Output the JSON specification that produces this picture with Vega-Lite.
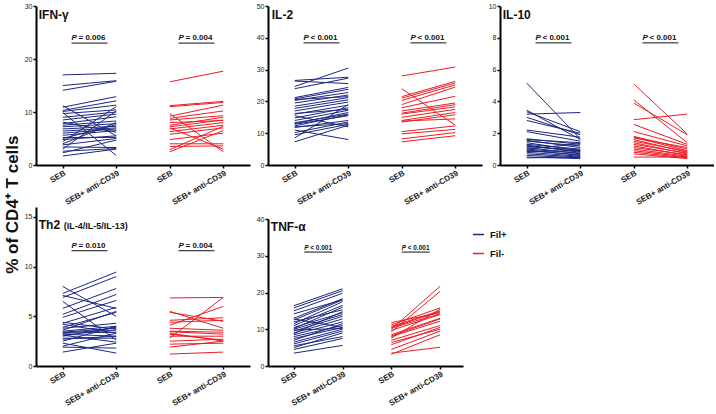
{
  "$schema": "https://vega.github.io/schema/vega-lite/v6.json",
  "padding": {"left": 4, "top": 2, "right": 0, "bottom": 0},
  "background": "white",
  "title": {"text": "% of CD4⁺ T cells", "orient": "left", "anchor": "middle", "fontSize": 17, "fontWeight": "bold", "font": "Liberation Sans", "offset": 2, "color": "#111"},
  "datasets": {
    "ifn": [
      {"g":"Fil+","a":17.0,"b":17.3},{"g":"Fil+","a":15.0,"b":15.9},{"g":"Fil+","a":14.1,"b":15.8},{"g":"Fil+","a":11.2,"b":5.5},{"g":"Fil+","a":10.9,"b":12.9},{"g":"Fil+","a":10.3,"b":12.1},{"g":"Fil+","a":10.1,"b":11.3},{"g":"Fil+","a":9.9,"b":1.8},{"g":"Fil+","a":9.7,"b":10.4},{"g":"Fil+","a":9.0,"b":10.0},{"g":"Fil+","a":8.5,"b":9.6},{"g":"Fil+","a":7.8,"b":9.1},{"g":"Fil+","a":7.5,"b":8.3},{"g":"Fil+","a":7.2,"b":7.8},{"g":"Fil+","a":6.8,"b":7.3},{"g":"Fil+","a":6.4,"b":7.0},{"g":"Fil+","a":6.0,"b":6.8},{"g":"Fil+","a":5.6,"b":6.5},{"g":"Fil+","a":5.2,"b":5.2},{"g":"Fil+","a":4.8,"b":5.5},{"g":"Fil+","a":4.4,"b":11.0},{"g":"Fil+","a":4.0,"b":8.0},{"g":"Fil+","a":3.8,"b":5.0},{"g":"Fil+","a":3.4,"b":3.3},{"g":"Fil+","a":3.0,"b":10.2},{"g":"Fil+","a":2.6,"b":3.1},{"g":"Fil+","a":2.3,"b":4.7},{"g":"Fil+","a":1.7,"b":3.0},{"g":"Fil+","a":5.0,"b":7.6},{"g":"Fil+","a":8.1,"b":6.2},
      {"g":"Fil-","a":15.7,"b":17.7},{"g":"Fil-","a":11.2,"b":12.0},{"g":"Fil-","a":11.0,"b":11.8},{"g":"Fil-","a":9.7,"b":2.5},{"g":"Fil-","a":9.2,"b":11.3},{"g":"Fil-","a":8.8,"b":10.2},{"g":"Fil-","a":8.5,"b":9.3},{"g":"Fil-","a":7.5,"b":9.0},{"g":"Fil-","a":7.2,"b":8.5},{"g":"Fil-","a":6.8,"b":8.0},{"g":"Fil-","a":6.3,"b":7.5},{"g":"Fil-","a":5.8,"b":7.0},{"g":"Fil-","a":4.8,"b":6.0},{"g":"Fil-","a":4.0,"b":4.0},{"g":"Fil-","a":3.5,"b":3.6},{"g":"Fil-","a":2.9,"b":7.3},{"g":"Fil-","a":2.5,"b":6.5},{"g":"Fil-","a":7.0,"b":3.0},{"g":"Fil-","a":8.0,"b":8.4}
    ],
    "il2": [
      {"g":"Fil+","a":26.6,"b":27.6},{"g":"Fil+","a":26.4,"b":25.6},{"g":"Fil+","a":24.7,"b":30.5},{"g":"Fil+","a":24.0,"b":27.3},{"g":"Fil+","a":21.2,"b":24.4},{"g":"Fil+","a":20.8,"b":23.8},{"g":"Fil+","a":20.3,"b":22.8},{"g":"Fil+","a":19.5,"b":22.0},{"g":"Fil+","a":18.5,"b":21.2},{"g":"Fil+","a":17.8,"b":20.5},{"g":"Fil+","a":17.0,"b":19.8},{"g":"Fil+","a":16.0,"b":18.8},{"g":"Fil+","a":15.5,"b":12.0},{"g":"Fil+","a":14.8,"b":18.0},{"g":"Fil+","a":14.0,"b":17.2},{"g":"Fil+","a":13.3,"b":16.0},{"g":"Fil+","a":12.8,"b":15.5},{"g":"Fil+","a":12.3,"b":15.8},{"g":"Fil+","a":11.8,"b":14.0},{"g":"Fil+","a":11.0,"b":8.0},{"g":"Fil+","a":10.2,"b":13.5},{"g":"Fil+","a":9.5,"b":12.8},{"g":"Fil+","a":8.5,"b":19.0},{"g":"Fil+","a":7.3,"b":12.5},{"g":"Fil+","a":12.0,"b":13.0},{"g":"Fil+","a":16.2,"b":17.5},{"g":"Fil+","a":20.6,"b":21.5},{"g":"Fil+","a":13.0,"b":16.5},
      {"g":"Fil-","a":28.0,"b":30.8},{"g":"Fil-","a":24.0,"b":12.5},{"g":"Fil-","a":21.5,"b":26.3},{"g":"Fil-","a":21.0,"b":25.8},{"g":"Fil-","a":20.3,"b":25.2},{"g":"Fil-","a":19.0,"b":24.5},{"g":"Fil-","a":18.0,"b":21.6},{"g":"Fil-","a":17.0,"b":19.5},{"g":"Fil-","a":16.3,"b":19.0},{"g":"Fil-","a":16.0,"b":18.3},{"g":"Fil-","a":15.0,"b":17.5},{"g":"Fil-","a":14.0,"b":16.5},{"g":"Fil-","a":13.5,"b":15.8},{"g":"Fil-","a":13.8,"b":14.5},{"g":"Fil-","a":10.5,"b":12.3},{"g":"Fil-","a":9.8,"b":11.2},{"g":"Fil-","a":8.2,"b":10.2},{"g":"Fil-","a":7.3,"b":9.2}
    ],
    "il10": [
      {"g":"Fil+","a":5.15,"b":1.65},{"g":"Fil+","a":3.45,"b":1.6},{"g":"Fil+","a":3.35,"b":2.1},{"g":"Fil+","a":3.2,"b":3.3},{"g":"Fil+","a":3.0,"b":1.9},{"g":"Fil+","a":2.8,"b":2.0},{"g":"Fil+","a":2.2,"b":1.75},{"g":"Fil+","a":2.1,"b":1.5},{"g":"Fil+","a":1.65,"b":1.3},{"g":"Fil+","a":1.6,"b":1.4},{"g":"Fil+","a":1.55,"b":1.1},{"g":"Fil+","a":1.5,"b":1.2},{"g":"Fil+","a":1.4,"b":0.9},{"g":"Fil+","a":1.3,"b":1.0},{"g":"Fil+","a":1.25,"b":0.8},{"g":"Fil+","a":1.2,"b":0.85},{"g":"Fil+","a":1.1,"b":0.7},{"g":"Fil+","a":1.0,"b":0.75},{"g":"Fil+","a":0.95,"b":0.6},{"g":"Fil+","a":0.9,"b":0.65},{"g":"Fil+","a":0.8,"b":0.55},{"g":"Fil+","a":0.7,"b":0.5},{"g":"Fil+","a":0.6,"b":0.45},{"g":"Fil+","a":0.5,"b":0.4},{"g":"Fil+","a":0.45,"b":0.5},{"g":"Fil+","a":1.0,"b":1.35},{"g":"Fil+","a":0.85,"b":0.9},{"g":"Fil+","a":1.15,"b":0.95},
      {"g":"Fil-","a":5.1,"b":1.95},{"g":"Fil-","a":4.1,"b":1.4},{"g":"Fil-","a":3.9,"b":1.9},{"g":"Fil-","a":2.85,"b":3.2},{"g":"Fil-","a":2.55,"b":1.3},{"g":"Fil-","a":2.1,"b":1.2},{"g":"Fil-","a":1.8,"b":1.0},{"g":"Fil-","a":1.75,"b":0.9},{"g":"Fil-","a":1.7,"b":1.1},{"g":"Fil-","a":1.6,"b":0.8},{"g":"Fil-","a":1.5,"b":0.85},{"g":"Fil-","a":1.4,"b":0.7},{"g":"Fil-","a":1.3,"b":0.75},{"g":"Fil-","a":1.2,"b":0.6},{"g":"Fil-","a":1.1,"b":0.65},{"g":"Fil-","a":1.0,"b":0.55},{"g":"Fil-","a":0.9,"b":0.5},{"g":"Fil-","a":0.8,"b":0.45},{"g":"Fil-","a":0.7,"b":0.4},{"g":"Fil-","a":0.5,"b":0.5}
    ],
    "th2": [
      {"g":"Fil+","a":8.0,"b":5.0},{"g":"Fil+","a":7.3,"b":9.45},{"g":"Fil+","a":7.1,"b":5.8},{"g":"Fil+","a":6.9,"b":9.0},{"g":"Fil+","a":6.5,"b":2.6},{"g":"Fil+","a":5.8,"b":7.8},{"g":"Fil+","a":5.2,"b":7.2},{"g":"Fil+","a":4.9,"b":6.6},{"g":"Fil+","a":4.3,"b":5.9},{"g":"Fil+","a":4.2,"b":3.3},{"g":"Fil+","a":3.9,"b":5.4},{"g":"Fil+","a":3.8,"b":4.3},{"g":"Fil+","a":3.5,"b":4.0},{"g":"Fil+","a":3.4,"b":3.8},{"g":"Fil+","a":3.35,"b":3.6},{"g":"Fil+","a":3.3,"b":3.4},{"g":"Fil+","a":3.2,"b":3.0},{"g":"Fil+","a":3.0,"b":3.9},{"g":"Fil+","a":2.8,"b":2.8},{"g":"Fil+","a":2.5,"b":4.0},{"g":"Fil+","a":2.3,"b":1.3},{"g":"Fil+","a":2.0,"b":3.3},{"g":"Fil+","a":1.9,"b":1.8},{"g":"Fil+","a":1.4,"b":2.3},{"g":"Fil+","a":3.6,"b":5.5},{"g":"Fil+","a":4.4,"b":3.7},{"g":"Fil+","a":2.7,"b":3.0},{"g":"Fil+","a":3.1,"b":2.4},
      {"g":"Fil-","a":6.85,"b":6.9},{"g":"Fil-","a":5.5,"b":3.8},{"g":"Fil-","a":5.4,"b":4.5},{"g":"Fil-","a":4.6,"b":4.85},{"g":"Fil-","a":4.4,"b":4.6},{"g":"Fil-","a":4.1,"b":6.0},{"g":"Fil-","a":3.8,"b":3.6},{"g":"Fil-","a":3.5,"b":3.4},{"g":"Fil-","a":3.45,"b":3.2},{"g":"Fil-","a":3.3,"b":2.5},{"g":"Fil-","a":3.0,"b":3.0},{"g":"Fil-","a":2.8,"b":6.9},{"g":"Fil-","a":2.5,"b":2.7},{"g":"Fil-","a":2.2,"b":2.3},{"g":"Fil-","a":1.9,"b":2.5},{"g":"Fil-","a":1.2,"b":1.4},{"g":"Fil-","a":3.2,"b":2.6}
    ],
    "tnf": [
      {"g":"Fil+","a":16.4,"b":21.0},{"g":"Fil+","a":15.8,"b":20.5},{"g":"Fil+","a":15.0,"b":19.8},{"g":"Fil+","a":13.0,"b":18.3},{"g":"Fil+","a":12.5,"b":18.0},{"g":"Fil+","a":12.0,"b":15.3},{"g":"Fil+","a":11.5,"b":17.5},{"g":"Fil+","a":11.0,"b":16.5},{"g":"Fil+","a":10.5,"b":14.5},{"g":"Fil+","a":10.2,"b":16.0},{"g":"Fil+","a":10.0,"b":14.0},{"g":"Fil+","a":9.5,"b":13.5},{"g":"Fil+","a":9.0,"b":12.8},{"g":"Fil+","a":8.5,"b":12.0},{"g":"Fil+","a":8.0,"b":11.0},{"g":"Fil+","a":7.5,"b":10.5},{"g":"Fil+","a":7.0,"b":11.5},{"g":"Fil+","a":6.5,"b":10.0},{"g":"Fil+","a":6.0,"b":9.5},{"g":"Fil+","a":5.5,"b":8.0},{"g":"Fil+","a":5.0,"b":9.0},{"g":"Fil+","a":4.5,"b":7.5},{"g":"Fil+","a":3.5,"b":5.6},{"g":"Fil+","a":12.8,"b":10.5},{"g":"Fil+","a":9.8,"b":10.2},{"g":"Fil+","a":8.8,"b":14.8},{"g":"Fil+","a":14.2,"b":18.0},
      {"g":"Fil-","a":11.8,"b":14.5},{"g":"Fil-","a":11.2,"b":15.8},{"g":"Fil-","a":10.8,"b":15.0},{"g":"Fil-","a":10.5,"b":14.8},{"g":"Fil-","a":10.3,"b":14.2},{"g":"Fil-","a":10.0,"b":21.7},{"g":"Fil-","a":9.7,"b":14.0},{"g":"Fil-","a":9.3,"b":20.3},{"g":"Fil-","a":8.5,"b":13.0},{"g":"Fil-","a":8.0,"b":12.2},{"g":"Fil-","a":7.6,"b":15.5},{"g":"Fil-","a":7.0,"b":11.0},{"g":"Fil-","a":6.4,"b":10.0},{"g":"Fil-","a":5.8,"b":10.5},{"g":"Fil-","a":4.5,"b":9.5},{"g":"Fil-","a":3.2,"b":8.5},{"g":"Fil-","a":3.5,"b":5.1},{"g":"Fil-","a":8.2,"b":12.8}
    ]
  },
  "spacing": 0,
  "resolve": {"scale": {"color": "independent"}, "legend": {"color": "independent"}},
  "vconcat": [
    {
      "spacing": 6,
      "resolve": {"scale": {"color": "independent"}, "legend": {"color": "independent"}},
      "hconcat": [
        {
          "width": 214, "height": 159,
          "layer": [
            {"data": {"name": "ifn"}, "transform": [{"filter": "datum.g == 'Fil+'"}], "mark": {"type": "rule", "strokeWidth": 1},
             "encoding": {"x": {"datum": "Fil+ SEB", "type": "ordinal", "scale": {"type": "point", "domain": ["Fil+ SEB","Fil+ P","Fil+ SEB+ anti-CD39","gap","Fil- SEB","Fil- P","Fil- SEB+ anti-CD39"], "padding": 1.3, "align": 0.5}, "axis": {"title": null, "labelOverlap": false, "values": ["Fil+ SEB","Fil+ SEB+ anti-CD39","Fil- SEB","Fil- SEB+ anti-CD39"], "labelExpr": "slice(datum.label, 5)"}},
                          "x2": {"datum": "Fil+ SEB+ anti-CD39"},
                          "y": {"field": "a", "type": "quantitative", "scale": {"domain": [0, 30]}, "axis": {"title": null, "labelOverlap": false, "values": [0, 10, 20, 30]}},
                          "y2": {"field": "b"},
                          "color": {"field": "g", "type": "nominal", "scale": {"domain": ["Fil+", "Fil-"], "range": ["#1c2781", "#ee1c24"]}, "legend": null}}},
            {"data": {"name": "ifn"}, "transform": [{"filter": "datum.g == 'Fil-'"}], "mark": {"type": "rule", "strokeWidth": 1},
             "encoding": {"x": {"datum": "Fil- SEB", "type": "ordinal"}, "x2": {"datum": "Fil- SEB+ anti-CD39"}, "y": {"field": "a", "type": "quantitative", "axis": {"title": null, "labelOverlap": false, "values": [0, 10, 20, 30]}}, "y2": {"field": "b"},
                          "color": {"field": "g", "type": "nominal", "legend": null}}},
            {"data": {"values": [{"t": "IFN-γ"}]}, "mark": {"type": "text", "align": "left", "baseline": "middle", "dx": -24, "fontSize": 12, "fontWeight": "bold", "color": "#111"},
             "encoding": {"x": {"datum": "Fil+ SEB", "type": "ordinal"}, "y": {"datum": 28.3, "type": "quantitative", "axis": {"title": null, "labelOverlap": false, "values": [0, 10, 20, 30]}}, "text": {"field": "t"}}},
            {"data": {"values": [{"s": "Fil+ P", "t": "= 0.006"}, {"s": "Fil- P", "t": "= 0.004"}]},
             "layer": [
               {"mark": {"type": "text", "align": "left", "baseline": "alphabetic", "dx": -18, "fontSize": 8, "fontWeight": "bold", "fontStyle": "italic", "color": "#111", "text": "P"},
                "encoding": {"x": {"field": "s", "type": "ordinal"}, "y": {"datum": 23.6, "type": "quantitative", "axis": {"title": null, "labelOverlap": false, "values": [0, 10, 20, 30]}}}},
               {"mark": {"type": "text", "align": "left", "baseline": "alphabetic", "dx": -11, "fontSize": 8, "fontWeight": "bold", "color": "#111"},
                "encoding": {"x": {"field": "s", "type": "ordinal"}, "y": {"datum": 23.6, "type": "quantitative", "axis": {"title": null, "labelOverlap": false, "values": [0, 10, 20, 30]}}, "text": {"field": "t"}}},
               {"mark": {"type": "rule", "xOffset": -18, "x2Offset": 18, "strokeWidth": 1, "color": "#111"},
                "encoding": {"x": {"field": "s", "type": "ordinal"}, "x2": {"field": "s"}, "y": {"datum": 23.0, "type": "quantitative", "axis": {"title": null, "labelOverlap": false, "values": [0, 10, 20, 30]}}}}
             ]}
          ]
        },
        {
          "width": 214, "height": 159,
          "layer": [
            {"data": {"name": "il2"}, "transform": [{"filter": "datum.g == 'Fil+'"}], "mark": {"type": "rule", "strokeWidth": 1},
             "encoding": {"x": {"datum": "Fil+ SEB", "type": "ordinal", "scale": {"type": "point", "domain": ["Fil+ SEB","Fil+ P","Fil+ SEB+ anti-CD39","gap","Fil- SEB","Fil- P","Fil- SEB+ anti-CD39"], "padding": 1.3, "align": 0.5}, "axis": {"title": null, "labelOverlap": false, "values": ["Fil+ SEB","Fil+ SEB+ anti-CD39","Fil- SEB","Fil- SEB+ anti-CD39"], "labelExpr": "slice(datum.label, 5)"}},
                          "x2": {"datum": "Fil+ SEB+ anti-CD39"},
                          "y": {"field": "a", "type": "quantitative", "scale": {"domain": [0, 50]}, "axis": {"title": null, "labelOverlap": false, "values": [0, 10, 20, 30, 40, 50]}},
                          "y2": {"field": "b"},
                          "color": {"field": "g", "type": "nominal", "scale": {"domain": ["Fil+", "Fil-"], "range": ["#1c2781", "#ee1c24"]}, "legend": null}}},
            {"data": {"name": "il2"}, "transform": [{"filter": "datum.g == 'Fil-'"}], "mark": {"type": "rule", "strokeWidth": 1},
             "encoding": {"x": {"datum": "Fil- SEB", "type": "ordinal"}, "x2": {"datum": "Fil- SEB+ anti-CD39"}, "y": {"field": "a", "type": "quantitative", "axis": {"title": null, "labelOverlap": false, "values": [0, 10, 20, 30, 40, 50]}}, "y2": {"field": "b"},
                          "color": {"field": "g", "type": "nominal", "legend": null}}},
            {"data": {"values": [{"t": "IL-2"}]}, "mark": {"type": "text", "align": "left", "baseline": "middle", "dx": -23, "fontSize": 12, "fontWeight": "bold", "color": "#111"},
             "encoding": {"x": {"datum": "Fil+ SEB", "type": "ordinal"}, "y": {"datum": 47.2, "type": "quantitative", "axis": {"title": null, "labelOverlap": false, "values": [0, 10, 20, 30, 40, 50]}}, "text": {"field": "t"}}},
            {"data": {"values": [{"s": "Fil+ P", "t": "< 0.001"}, {"s": "Fil- P", "t": "< 0.001"}]},
             "layer": [
               {"mark": {"type": "text", "align": "left", "baseline": "alphabetic", "dx": -18, "fontSize": 8, "fontWeight": "bold", "fontStyle": "italic", "color": "#111", "text": "P"},
                "encoding": {"x": {"field": "s", "type": "ordinal"}, "y": {"datum": 39.3, "type": "quantitative", "axis": {"title": null, "labelOverlap": false, "values": [0, 10, 20, 30, 40, 50]}}}},
               {"mark": {"type": "text", "align": "left", "baseline": "alphabetic", "dx": -11, "fontSize": 8, "fontWeight": "bold", "color": "#111"},
                "encoding": {"x": {"field": "s", "type": "ordinal"}, "y": {"datum": 39.3, "type": "quantitative", "axis": {"title": null, "labelOverlap": false, "values": [0, 10, 20, 30, 40, 50]}}, "text": {"field": "t"}}},
               {"mark": {"type": "rule", "xOffset": -18, "x2Offset": 18, "strokeWidth": 1, "color": "#111"},
                "encoding": {"x": {"field": "s", "type": "ordinal"}, "x2": {"field": "s"}, "y": {"datum": 38.4, "type": "quantitative", "axis": {"title": null, "labelOverlap": false, "values": [0, 10, 20, 30, 40, 50]}}}}
             ]}
          ]
        },
        {
          "width": 214, "height": 159,
          "layer": [
            {"data": {"name": "il10"}, "transform": [{"filter": "datum.g == 'Fil+'"}], "mark": {"type": "rule", "strokeWidth": 1},
             "encoding": {"x": {"datum": "Fil+ SEB", "type": "ordinal", "scale": {"type": "point", "domain": ["Fil+ SEB","Fil+ P","Fil+ SEB+ anti-CD39","gap","Fil- SEB","Fil- P","Fil- SEB+ anti-CD39"], "padding": 1.3, "align": 0.5}, "axis": {"title": null, "labelOverlap": false, "values": ["Fil+ SEB","Fil+ SEB+ anti-CD39","Fil- SEB","Fil- SEB+ anti-CD39"], "labelExpr": "slice(datum.label, 5)"}},
                          "x2": {"datum": "Fil+ SEB+ anti-CD39"},
                          "y": {"field": "a", "type": "quantitative", "scale": {"domain": [0, 10]}, "axis": {"title": null, "labelOverlap": false, "values": [0, 2, 4, 6, 8, 10]}},
                          "y2": {"field": "b"},
                          "color": {"field": "g", "type": "nominal", "scale": {"domain": ["Fil+", "Fil-"], "range": ["#1c2781", "#ee1c24"]}, "legend": null}}},
            {"data": {"name": "il10"}, "transform": [{"filter": "datum.g == 'Fil-'"}], "mark": {"type": "rule", "strokeWidth": 1},
             "encoding": {"x": {"datum": "Fil- SEB", "type": "ordinal"}, "x2": {"datum": "Fil- SEB+ anti-CD39"}, "y": {"field": "a", "type": "quantitative", "axis": {"title": null, "labelOverlap": false, "values": [0, 2, 4, 6, 8, 10]}}, "y2": {"field": "b"},
                          "color": {"field": "g", "type": "nominal", "legend": null}}},
            {"data": {"values": [{"t": "IL-10"}]}, "mark": {"type": "text", "align": "left", "baseline": "middle", "dx": -24, "fontSize": 12, "fontWeight": "bold", "color": "#111"},
             "encoding": {"x": {"datum": "Fil+ SEB", "type": "ordinal"}, "y": {"datum": 9.43, "type": "quantitative", "axis": {"title": null, "labelOverlap": false, "values": [0, 2, 4, 6, 8, 10]}}, "text": {"field": "t"}}},
            {"data": {"values": [{"s": "Fil+ P", "t": "< 0.001"}, {"s": "Fil- P", "t": "< 0.001"}]},
             "layer": [
               {"mark": {"type": "text", "align": "left", "baseline": "alphabetic", "dx": -18, "fontSize": 8, "fontWeight": "bold", "fontStyle": "italic", "color": "#111", "text": "P"},
                "encoding": {"x": {"field": "s", "type": "ordinal"}, "y": {"datum": 7.86, "type": "quantitative", "axis": {"title": null, "labelOverlap": false, "values": [0, 2, 4, 6, 8, 10]}}}},
               {"mark": {"type": "text", "align": "left", "baseline": "alphabetic", "dx": -11, "fontSize": 8, "fontWeight": "bold", "color": "#111"},
                "encoding": {"x": {"field": "s", "type": "ordinal"}, "y": {"datum": 7.86, "type": "quantitative", "axis": {"title": null, "labelOverlap": false, "values": [0, 2, 4, 6, 8, 10]}}, "text": {"field": "t"}}},
               {"mark": {"type": "rule", "xOffset": -18, "x2Offset": 18, "strokeWidth": 1, "color": "#111"},
                "encoding": {"x": {"field": "s", "type": "ordinal"}, "x2": {"field": "s"}, "y": {"datum": 7.68, "type": "quantitative", "axis": {"title": null, "labelOverlap": false, "values": [0, 2, 4, 6, 8, 10]}}}}
             ]}
          ]
        }
      ]
    },
    {
      "spacing": 6,
      "resolve": {"scale": {"color": "independent"}, "legend": {"color": "independent"}},
      "hconcat": [
        {
          "width": 214, "height": 159,
          "layer": [
            {"data": {"name": "th2"}, "transform": [{"filter": "datum.g == 'Fil+'"}], "mark": {"type": "rule", "strokeWidth": 1},
             "encoding": {"x": {"datum": "Fil+ SEB", "type": "ordinal", "scale": {"type": "point", "domain": ["Fil+ SEB","Fil+ P","Fil+ SEB+ anti-CD39","gap","Fil- SEB","Fil- P","Fil- SEB+ anti-CD39"], "padding": 1.3, "align": 0.5}, "axis": {"title": null, "labelOverlap": false, "values": ["Fil+ SEB","Fil+ SEB+ anti-CD39","Fil- SEB","Fil- SEB+ anti-CD39"], "labelExpr": "slice(datum.label, 5)"}},
                          "x2": {"datum": "Fil+ SEB+ anti-CD39"},
                          "y": {"field": "a", "type": "quantitative", "scale": {"domain": [0, 15]}, "axis": {"title": null, "labelOverlap": false, "values": [0, 5, 10, 15]}},
                          "y2": {"field": "b"},
                          "color": {"field": "g", "type": "nominal", "scale": {"domain": ["Fil+", "Fil-"], "range": ["#1c2781", "#ee1c24"]}, "legend": null}}},
            {"data": {"name": "th2"}, "transform": [{"filter": "datum.g == 'Fil-'"}], "mark": {"type": "rule", "strokeWidth": 1},
             "encoding": {"x": {"datum": "Fil- SEB", "type": "ordinal"}, "x2": {"datum": "Fil- SEB+ anti-CD39"}, "y": {"field": "a", "type": "quantitative", "axis": {"title": null, "labelOverlap": false, "values": [0, 5, 10, 15]}}, "y2": {"field": "b"},
                          "color": {"field": "g", "type": "nominal", "legend": null}}},
            {"data": {"values": [{"t": "Th2"}]}, "mark": {"type": "text", "align": "left", "baseline": "middle", "dx": -24, "fontSize": 12, "fontWeight": "bold", "color": "#111"},
             "encoding": {"x": {"datum": "Fil+ SEB", "type": "ordinal"}, "y": {"datum": 14.15, "type": "quantitative", "axis": {"title": null, "labelOverlap": false, "values": [0, 5, 10, 15]}}, "text": {"field": "t"}}},
            {"data": {"values": [{"t": "(IL-4/IL-5/IL-13)"}]}, "mark": {"type": "text", "align": "left", "baseline": "middle", "dx": 1, "fontSize": 9, "fontWeight": "bold", "color": "#111"},
             "encoding": {"x": {"datum": "Fil+ SEB", "type": "ordinal"}, "y": {"datum": 14.1, "type": "quantitative", "axis": {"title": null, "labelOverlap": false, "values": [0, 5, 10, 15]}}, "text": {"field": "t"}}},
            {"data": {"values": [{"s": "Fil+ P", "t": "= 0.010"}, {"s": "Fil- P", "t": "= 0.004"}]},
             "layer": [
               {"mark": {"type": "text", "align": "left", "baseline": "alphabetic", "dx": -18, "fontSize": 8, "fontWeight": "bold", "fontStyle": "italic", "color": "#111", "text": "P"},
                "encoding": {"x": {"field": "s", "type": "ordinal"}, "y": {"datum": 11.84, "type": "quantitative", "axis": {"title": null, "labelOverlap": false, "values": [0, 5, 10, 15]}}}},
               {"mark": {"type": "text", "align": "left", "baseline": "alphabetic", "dx": -11, "fontSize": 8, "fontWeight": "bold", "color": "#111"},
                "encoding": {"x": {"field": "s", "type": "ordinal"}, "y": {"datum": 11.84, "type": "quantitative", "axis": {"title": null, "labelOverlap": false, "values": [0, 5, 10, 15]}}, "text": {"field": "t"}}},
               {"mark": {"type": "rule", "xOffset": -18, "x2Offset": 18, "strokeWidth": 1, "color": "#111"},
                "encoding": {"x": {"field": "s", "type": "ordinal"}, "x2": {"field": "s"}, "y": {"datum": 11.6, "type": "quantitative", "axis": {"title": null, "labelOverlap": false, "values": [0, 5, 10, 15]}}}}
             ]}
          ]
        },
        {
          "width": 195, "height": 159,
          "layer": [
            {"data": {"name": "tnf"}, "transform": [{"filter": "datum.g == 'Fil+'"}], "mark": {"type": "rule", "strokeWidth": 1},
             "encoding": {"x": {"datum": "Fil+ SEB", "type": "ordinal", "scale": {"type": "point", "domain": ["Fil+ SEB","Fil+ P","Fil+ SEB+ anti-CD39","gap","Fil- SEB","Fil- P","Fil- SEB+ anti-CD39"], "padding": 1.25, "align": 0.53}, "axis": {"title": null, "labelOverlap": false, "values": ["Fil+ SEB","Fil+ SEB+ anti-CD39","Fil- SEB","Fil- SEB+ anti-CD39"], "labelExpr": "slice(datum.label, 5)"}},
                          "x2": {"datum": "Fil+ SEB+ anti-CD39"},
                          "y": {"field": "a", "type": "quantitative", "scale": {"domain": [0, 40], "range": [159, 12]}, "axis": {"title": null, "labelOverlap": false, "values": [0, 10, 20, 30, 40]}},
                          "y2": {"field": "b"},
                          "color": {"field": "g", "type": "nominal", "scale": {"domain": ["Fil+", "Fil-"], "range": ["#1c2781", "#ee1c24"]},
                                    "legend": {"title": null, "orient": "none", "legendX": 204, "legendY": 21, "padding": 0, "symbolType": "stroke", "symbolSize": 120, "symbolStrokeWidth": 1.5, "labelFontSize": 9.5, "labelFontWeight": "bold", "labelColor": "#111", "rowPadding": 8, "labelOffset": 5}}}},
            {"data": {"name": "tnf"}, "transform": [{"filter": "datum.g == 'Fil-'"}], "mark": {"type": "rule", "strokeWidth": 1},
             "encoding": {"x": {"datum": "Fil- SEB", "type": "ordinal"}, "x2": {"datum": "Fil- SEB+ anti-CD39"}, "y": {"field": "a", "type": "quantitative", "axis": {"title": null, "labelOverlap": false, "values": [0, 10, 20, 30, 40]}}, "y2": {"field": "b"},
                          "color": {"field": "g", "type": "nominal"}}},
            {"data": {"values": [{"t": "TNF-α"}]}, "mark": {"type": "text", "align": "left", "baseline": "middle", "dx": -23, "fontSize": 12, "fontWeight": "bold", "color": "#111"},
             "encoding": {"x": {"datum": "Fil+ SEB", "type": "ordinal"}, "y": {"datum": 37.8, "type": "quantitative", "axis": {"title": null, "labelOverlap": false, "values": [0, 10, 20, 30, 40]}}, "text": {"field": "t"}}},
            {"data": {"values": [{"s": "Fil+ P", "t": "< 0.001"}, {"s": "Fil- P", "t": "< 0.001"}]},
             "layer": [
               {"mark": {"type": "text", "align": "left", "baseline": "alphabetic", "dx": -14, "fontSize": 6.5, "fontWeight": "bold", "fontStyle": "italic", "color": "#111", "text": "P"},
                "encoding": {"x": {"field": "s", "type": "ordinal"}, "y": {"datum": 31.6, "type": "quantitative", "axis": {"title": null, "labelOverlap": false, "values": [0, 10, 20, 30, 40]}}}},
               {"mark": {"type": "text", "align": "left", "baseline": "alphabetic", "dx": -8, "fontSize": 6.5, "fontWeight": "bold", "color": "#111"},
                "encoding": {"x": {"field": "s", "type": "ordinal"}, "y": {"datum": 31.6, "type": "quantitative", "axis": {"title": null, "labelOverlap": false, "values": [0, 10, 20, 30, 40]}}, "text": {"field": "t"}}},
               {"mark": {"type": "rule", "xOffset": -14, "x2Offset": 14, "strokeWidth": 1, "color": "#111"},
                "encoding": {"x": {"field": "s", "type": "ordinal"}, "x2": {"field": "s"}, "y": {"datum": 31.0, "type": "quantitative", "axis": {"title": null, "labelOverlap": false, "values": [0, 10, 20, 30, 40]}}}}
             ]}
          ]
        }
      ]
    }
  ],
  "config": {
    "font": "Liberation Sans",
    "view": {"stroke": null},
    "axis": {"grid": false, "domainColor": "#000", "domainWidth": 2, "tickColor": "#000", "tickWidth": 1.5, "tickSize": 3, "labelColor": "#222", "labelFont": "Liberation Sans", "labelPadding": 1, "labelOverlap": false, "labelBound": false},
    "axisX": {"labelAngle": -30, "labelFontSize": 8, "labelFontWeight": "bold"},
    "axisY": {"labelFontSize": 7, "labelFlush": false},
    "text": {"font": "Liberation Sans"}
  }
}
